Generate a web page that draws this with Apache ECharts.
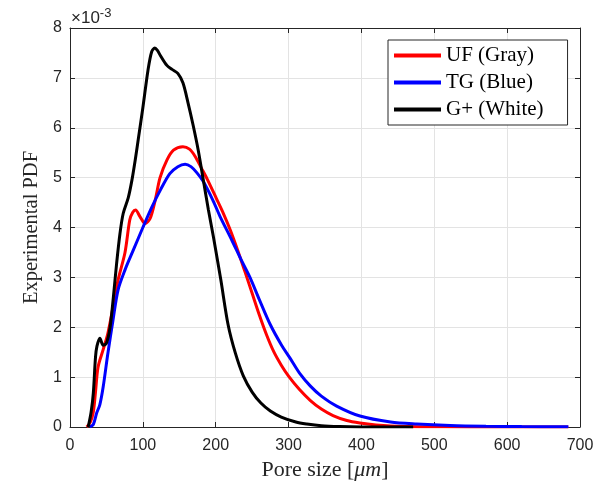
<!DOCTYPE html>
<html>
<head>
<meta charset="utf-8">
<script src="https://cdn.jsdelivr.net/npm/echarts@6/dist/echarts.min.js"></script>
<style>html,body{margin:0;padding:0;background:#fff;}#c{width:595px;height:484px;}</style>
</head>
<body>
<div id="c"></div>
<script>
// Values in units of 1e-3 (axis multiplier shown as ×10^-3)
const seriesNames = ['UF (Gray)', 'TG (Blue)', 'G+ (White)'];
const seriesColors = ['#ff0000', '#0000ff', '#000000'];
const xTicks = [0, 100, 200, 300, 400, 500, 600, 700];
const yTicks = [0, 1, 2, 3, 4, 5, 6, 7, 8];

const ufX = [23, 28, 32, 35, 38.5, 45.5, 52, 59, 66, 75.5, 82, 86, 90, 96, 103, 110, 117, 123.6, 133, 142, 155, 164, 172, 180, 188, 201, 210, 220, 230, 240, 250, 260, 270, 280, 290, 300, 315, 330, 345, 361, 380, 398, 420, 440, 480, 550, 684];
const ufY = [0, 0.1, 0.3, 0.7, 1.2, 1.55, 1.88, 2.4, 2.95, 3.5, 4.15, 4.3, 4.35, 4.22, 4.08, 4.18, 4.55, 5.0, 5.35, 5.55, 5.62, 5.57, 5.42, 5.2, 4.98, 4.58, 4.3, 3.95, 3.55, 3.12, 2.68, 2.24, 1.84, 1.5, 1.24, 1.02, 0.75, 0.53, 0.36, 0.23, 0.13, 0.08, 0.04, 0.02, 0.007, 0.002, 0];

const tgX = [27, 32, 36.6, 41, 45.5, 52, 59, 66, 75.5, 87, 100, 112, 124, 137, 148, 158, 166, 174, 183, 196, 206, 222, 235, 247, 260, 275, 290, 302, 315, 330, 345, 366, 398, 440, 476, 522, 571, 620, 684];
const tgY = [0, 0.05, 0.28, 0.45, 0.8, 1.48, 2.14, 2.75, 3.15, 3.55, 4.0, 4.4, 4.75, 5.08, 5.22, 5.27, 5.22, 5.1, 4.92, 4.55, 4.22, 3.75, 3.35, 3.0, 2.55, 2.05, 1.65, 1.38, 1.08, 0.82, 0.62, 0.42, 0.22, 0.1, 0.06, 0.03, 0.015, 0.008, 0.005];

const gpX = [25, 29, 32, 35, 37, 41, 45.5, 50, 55, 59.5, 64, 68.6, 73, 80, 85, 90, 94, 100, 107, 112, 116.5, 120, 124, 133, 140, 148, 155, 162, 169, 176, 183, 190, 197, 207, 217, 227, 238, 250, 262, 275, 290, 310, 325, 345, 370, 400, 471];
const gpY = [0, 0.3, 0.68, 1.4, 1.62, 1.78, 1.64, 1.68, 2.0, 2.6, 3.28, 3.88, 4.28, 4.6, 4.95, 5.4, 5.8, 6.4, 7.15, 7.52, 7.6, 7.55, 7.45, 7.25, 7.17, 7.09, 6.9, 6.5, 6.05, 5.55, 4.95, 4.35, 3.8, 2.95, 2.05, 1.48, 1.02, 0.7, 0.48, 0.32, 0.2, 0.1, 0.06, 0.025, 0.008, 0.001, 0];

const zip = (xs, ys) => xs.map((x, i) => [x, ys[i]]);
const dataSets = [zip(ufX, ufY), zip(tgX, tgY), zip(gpX, gpY)];

const axisColor = '#262626';
const tickFont = { fontFamily: 'Liberation Sans, Arial, sans-serif', fontSize: 16, color: axisColor };
const serif = 'Liberation Serif, Times New Roman, serif';

const chart = echarts.init(document.getElementById('c'), null, { renderer: 'canvas' });

function xAx(pos, show) {
  return {
    type: 'value', position: pos, min: xTicks[0], max: xTicks[xTicks.length - 1], interval: 100,
    axisLine: { show: true, onZero: false, lineStyle: { color: axisColor, width: 1 } },
    axisTick: { show: true, inside: true, length: 5, lineStyle: { color: axisColor } },
    axisLabel: show ? Object.assign({ margin: 11 }, tickFont) : { show: false },
    splitLine: { show: show, lineStyle: { color: '#e3e3e3', width: 1 } },
    name: show ? 'Pore size [{i|μm}]' : '',
    nameLocation: 'middle', nameGap: 32,
    nameTextStyle: { fontFamily: serif, fontSize: 22, color: axisColor,
      rich: { i: { fontFamily: serif, fontStyle: 'italic', fontSize: 22, color: axisColor } } }
  };
}
function yAx(pos, show) {
  return {
    type: 'value', position: pos, min: yTicks[0], max: yTicks[yTicks.length - 1], interval: 1,
    axisLine: { show: true, onZero: false, lineStyle: { color: axisColor, width: 1 } },
    axisTick: { show: true, inside: true, length: 5, lineStyle: { color: axisColor } },
    axisLabel: show ? Object.assign({ margin: 8 }, tickFont) : { show: false },
    splitLine: { show: show, lineStyle: { color: '#e3e3e3', width: 1 } },
    name: show ? 'Experimental PDF' : '',
    nameLocation: 'middle', nameGap: 24,
    nameTextStyle: { fontFamily: serif, fontSize: 20.5, color: axisColor }
  };
}

chart.setOption({
  animation: false,
  backgroundColor: '#ffffff',
  grid: { left: 70, right: 15, top: 28, bottom: 57, containLabel: false, outerBoundsMode: 'none' },
  xAxis: [xAx('bottom', true), xAx('top', false)],
  yAxis: [yAx('left', true), yAx('right', false)],
  legend: {
    orient: 'vertical', left: 388, top: 40,
    data: seriesNames,
    itemWidth: 47, itemHeight: 4, itemGap: 6,
    icon: 'rect',
    padding: [5, 24, 5, 6],
    borderColor: axisColor, borderWidth: 1, backgroundColor: '#fff',
    textStyle: { fontFamily: serif, fontSize: 21, color: '#000', lineHeight: 21 }
  },
  graphic: [{
    type: 'text', left: 71, top: 7,
    style: { text: '×10{s|-3}', fontFamily: 'Liberation Sans, Arial, sans-serif', fontSize: 17, fill: axisColor,
      rich: { s: { fontSize: 13, verticalAlign: 'top', padding: [0, 0, 10, 0], fill: axisColor, fontFamily: 'Liberation Sans, Arial, sans-serif' } } }
  }],
  series: seriesNames.map((n, i) => ({
    name: n, type: 'line', data: dataSets[i], showSymbol: false, symbol: 'none',
    smooth: 0.3, lineStyle: { color: seriesColors[i], width: 3 }, itemStyle: { color: seriesColors[i] },
    z: 2 + i
  }))
});
</script>
</body>
</html>
